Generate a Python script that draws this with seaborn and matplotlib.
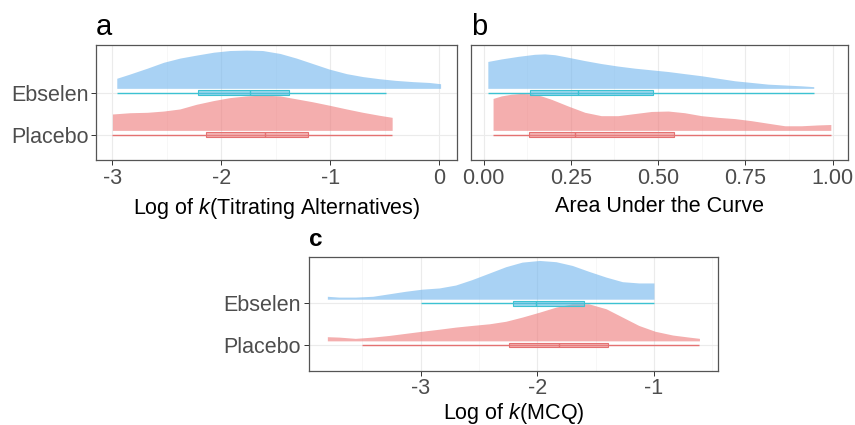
import matplotlib
matplotlib.use("Agg")
import matplotlib.pyplot as plt
import numpy as np
import seaborn as sns
from matplotlib.ticker import MultipleLocator

# --- values ------------------------------------------------------------------------
groups = ["Placebo", "Ebselen"]  # bottom to top

# density profiles (x, height in category units) per panel and group
ta_ebselen_x = [-2.96, -2.84, -2.68, -2.53, -2.38, -2.23, -2.07, -1.92, -1.77, -1.62, -1.46,
                -1.31, -1.16, -1.01, -0.85, -0.70, -0.55, -0.40, -0.24, -0.09, 0.015]
ta_ebselen_h = [0.24, 0.34, 0.48, 0.62, 0.72, 0.79, 0.86, 0.90, 0.91, 0.90, 0.83,
                0.72, 0.59, 0.46, 0.35, 0.28, 0.23, 0.19, 0.16, 0.14, 0.11]
ta_placebo_x = [-3.0, -2.84, -2.68, -2.53, -2.38, -2.23, -2.07, -1.92, -1.77, -1.62, -1.46,
                -1.31, -1.16, -1.01, -0.85, -0.70, -0.55, -0.43]
ta_placebo_h = [0.39, 0.42, 0.43, 0.46, 0.51, 0.62, 0.71, 0.78, 0.82, 0.84, 0.82,
                0.75, 0.68, 0.60, 0.51, 0.43, 0.36, 0.31]

auc_ebselen_x = [0.012, 0.051, 0.098, 0.146, 0.175, 0.204, 0.242, 0.29, 0.337, 0.385, 0.433,
                 0.481, 0.529, 0.576, 0.624, 0.672, 0.72, 0.768, 0.815, 0.863, 0.911, 0.946]
auc_ebselen_h = [0.64, 0.70, 0.76, 0.81, 0.82, 0.80, 0.74, 0.66, 0.59, 0.53, 0.48,
                 0.44, 0.40, 0.35, 0.30, 0.24, 0.18, 0.14, 0.10, 0.08, 0.06, 0.04]
auc_placebo_x = [0.027, 0.051, 0.079, 0.108, 0.137, 0.165, 0.194, 0.242, 0.29, 0.337, 0.385, 0.433,
                 0.481, 0.529, 0.576, 0.624, 0.672, 0.72, 0.768, 0.815, 0.863, 0.911, 0.959, 0.995]
auc_placebo_h = [0.76, 0.82, 0.86, 0.88, 0.87, 0.82, 0.74, 0.58, 0.43, 0.35, 0.35, 0.40,
                 0.45, 0.46, 0.42, 0.35, 0.31, 0.28, 0.23, 0.17, 0.11, 0.11, 0.13, 0.14]

mcq_ebselen_x = [-3.8, -3.70, -3.56, -3.41, -3.27, -3.13, -2.99, -2.84, -2.70, -2.56, -2.41,
                 -2.27, -2.13, -1.98, -1.84, -1.70, -1.56, -1.41, -1.27, -1.13, -1.0]
mcq_ebselen_h = [0.07, 0.05, 0.05, 0.07, 0.13, 0.19, 0.24, 0.27, 0.34, 0.47, 0.63,
                 0.78, 0.89, 0.93, 0.90, 0.81, 0.67, 0.53, 0.42, 0.39, 0.39]
mcq_placebo_x = [-3.8, -3.70, -3.56, -3.41, -3.27, -3.13, -2.99, -2.84, -2.70, -2.56, -2.41, -2.27,
                 -2.13, -1.98, -1.84, -1.70, -1.56, -1.41, -1.27, -1.13, -0.99, -0.84, -0.70, -0.61]
mcq_placebo_h = [0.10, 0.09, 0.06, 0.09, 0.13, 0.18, 0.23, 0.28, 0.33, 0.37, 0.41, 0.47,
                 0.57, 0.69, 0.81, 0.89, 0.89, 0.77, 0.57, 0.37, 0.23, 0.14, 0.09, 0.06]

# box stats: whisker low, q1, median, q3, whisker high
ta_ebselen_box = [-2.96, -2.21, -1.74, -1.38, -0.49]
ta_placebo_box = [-3.0, -2.14, -1.60, -1.20, -0.43]
auc_ebselen_box = [0.012, 0.132, 0.269, 0.484, 0.946]
auc_placebo_box = [0.027, 0.130, 0.263, 0.545, 0.995]
mcq_ebselen_box = [-3.0, -2.21, -2.01, -1.60, -1.0]
mcq_placebo_box = [-3.5, -2.24, -1.81, -1.39, -0.61]

ta_ticks = [-3, -2, -1, 0]
auc_ticks = [0.0, 0.25, 0.5, 0.75, 1.0]
auc_ticklabels = ["0.00", "0.25", "0.50", "0.75", "1.00"]
mcq_ticks = [-3, -2, -1]

# --- styling -----------------------------------------------------------------------
sns.set_theme(style="whitegrid")
plt.rcParams["font.family"] = ["Liberation Sans", "DejaVu Sans"]
plt.rcParams["mathtext.fontset"] = "custom"
plt.rcParams["mathtext.rm"] = "Liberation Sans"
plt.rcParams["mathtext.it"] = "Liberation Sans:italic"

DENS = {"Ebselen": (0.44, 0.71, 0.93, 0.6), "Placebo": (0.93, 0.47, 0.47, 0.6)}
BOX_FACE = {"Ebselen": (0.35, 0.74, 0.88, 0.6), "Placebo": (0.92, 0.52, 0.52, 0.6)}
BOX_EDGE = {"Ebselen": "#3CC2D2", "Placebo": "#E47272"}
OFFSET = 0.1


def draw_panel(ax, dens, boxes, ticks, ticklabels, minor, xlabel, show_y, labelpad=5):
    for g, pos in (("Ebselen", 2), ("Placebo", 1)):
        x, h = dens[g]
        base = pos + OFFSET
        ax.fill_between(x, base, base + np.asarray(h), color=DENS[g], lw=0, zorder=2)
    for g, pos in (("Ebselen", 2), ("Placebo", 1)):
        lo, q1, med, q3, hi = boxes[g]
        ax.hlines(pos, lo, hi, colors=BOX_EDGE[g], lw=1.0, zorder=2.9)
        stats = [dict(whislo=q1, q1=q1, med=med, q3=q3, whishi=q3, fliers=[])]
        parts = ax.bxp(stats, positions=[pos], widths=0.11, vert=False, showcaps=False,
                       showfliers=False, patch_artist=True, manage_ticks=False, zorder=3)
        for b in parts["boxes"]:
            b.set_facecolor(BOX_FACE[g])
            b.set_edgecolor(BOX_EDGE[g])
            b.set_linewidth(0.8)
        for ln in parts["medians"]:
            ln.set_color(BOX_EDGE[g])
            ln.set_linewidth(1.0)
        for ln in parts["whiskers"]:
            ln.set_visible(False)
    lo = min(min(dens[g][0]) for g in dens)
    hi = max(max(dens[g][0]) for g in dens)
    pad = (hi - lo) * 0.05
    ax.set_xlim(lo - pad, hi + pad)
    ax.set_ylim(0.384, 3.12)
    ax.set_xticks(ticks)
    ax.set_xticklabels(ticklabels)
    ax.xaxis.set_minor_locator(MultipleLocator(minor))
    ax.set_yticks([1, 2])
    ax.set_yticklabels(groups if show_y else ["", ""])
    ax.grid(which="major", color="#EBEBEB", lw=0.8)
    ax.grid(which="minor", axis="x", color="#F4F4F4", lw=0.5)
    ax.set_axisbelow(True)
    ax.tick_params(axis="both", which="major", labelsize=15.5, labelcolor="#4D4D4D",
                   color="#333333", length=3.5, width=0.7, pad=2, bottom=True, left=show_y)
    ax.tick_params(which="minor", length=0)
    for s in ax.spines.values():
        s.set_color("#555555")
        s.set_linewidth(0.9)
    ax.set_xlabel(xlabel, fontsize=15.5, color="black", labelpad=labelpad)
    ax.set_ylabel("")


fig = plt.figure(figsize=(8.55, 4.25), dpi=100)
ax_a = fig.add_axes([0.1123, 0.6224, 0.4222, 0.2706])
ax_b = fig.add_axes([0.5505, 0.6224, 0.4413, 0.2706])
ax_c = fig.add_axes([0.3611, 0.1278, 0.4787, 0.2682])

draw_panel(ax_a,
           {"Ebselen": (ta_ebselen_x, ta_ebselen_h), "Placebo": (ta_placebo_x, ta_placebo_h)},
           {"Ebselen": ta_ebselen_box, "Placebo": ta_placebo_box},
           ta_ticks, [str(t) for t in ta_ticks], 0.5,
           r"Log of $k$(Titrating Alternatives)", True)
draw_panel(ax_b,
           {"Ebselen": (auc_ebselen_x, auc_ebselen_h), "Placebo": (auc_placebo_x, auc_placebo_h)},
           {"Ebselen": auc_ebselen_box, "Placebo": auc_placebo_box},
           auc_ticks, auc_ticklabels, 0.125, "Area Under the Curve", False)
draw_panel(ax_c,
           {"Ebselen": (mcq_ebselen_x, mcq_ebselen_h), "Placebo": (mcq_placebo_x, mcq_placebo_h)},
           {"Ebselen": mcq_ebselen_box, "Placebo": mcq_placebo_box},
           mcq_ticks, [str(t) for t in mcq_ticks], 0.5, r"Log of $k$(MCQ)", True, labelpad=1)

fig.text(96 / 855, 1 - 35 / 425, "a", fontsize=21, color="black", ha="left", va="baseline")
fig.text(471 / 855, 1 - 35 / 425, "b", fontsize=21, color="black", ha="left", va="baseline")
fig.text(309 / 855, 1 - 246 / 425, "c", fontsize=17.5, fontweight="bold", color="black",
         ha="left", va="baseline")

fig.savefig("out.png", dpi=100)
